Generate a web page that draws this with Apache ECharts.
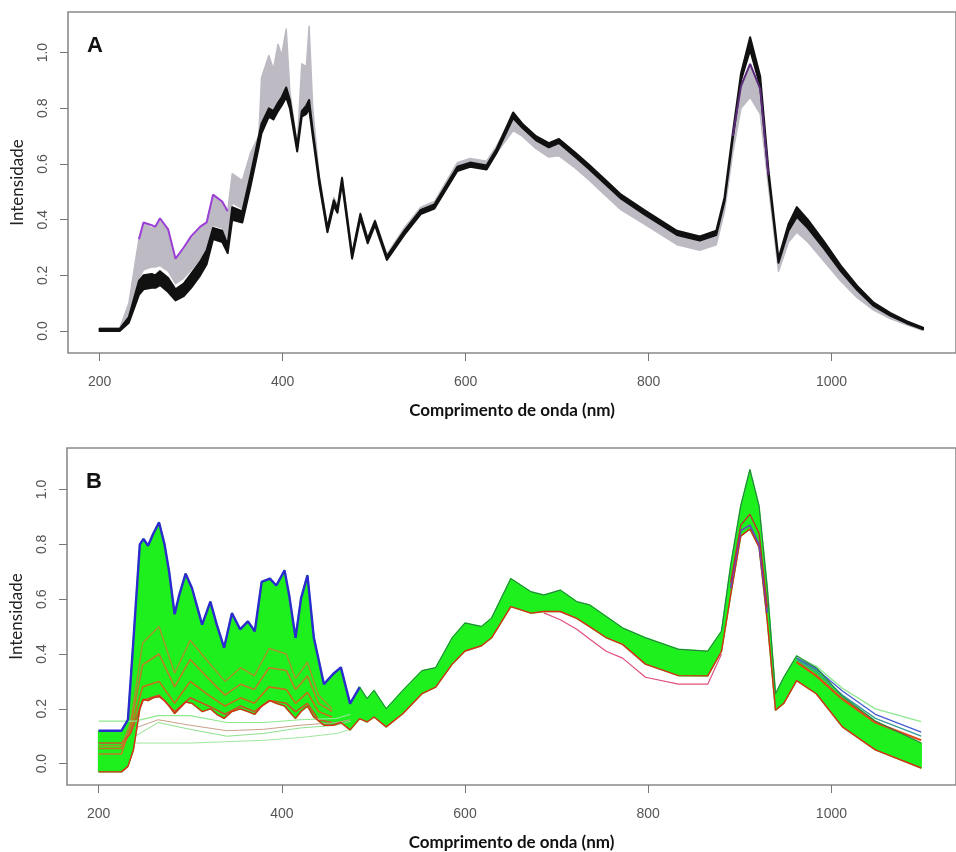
<!DOCTYPE html>
<html>
<head>
<meta charset="utf-8">
<script src="https://cdn.jsdelivr.net/npm/echarts@6/dist/echarts.min.js"></script>
<style>
html,body{margin:0;padding:0;background:#fff;}
#chart{width:956px;height:852px;}
</style>
</head>
<body>
<div id="chart"></div>
<script>
// ---------- shared ticks ----------
const xTicks = [200, 400, 600, 800, 1000];
const yTicks = [0, 0.2, 0.4, 0.6, 0.8, 1.0];

// ---------- Panel A ----------
const A_nm = [200,222,232,243,248,257,261,266,275,283,292,300,310,317,324,334,340,345,356,365,374,377,385,390,395,399,404,408,416,421,426,429,433,440,449,456,460,465,476,485,493,501,514,533,551,566,591,605,623,634,652,662,677,691,702,720,734,752,770,795,831,856,874,883,892,901,911,922,931,942,953,962,974,992,1010,1028,1046,1064,1082,1100];
const A_blackHi = [0.008,0.008,0.05,0.18,0.20,0.205,0.20,0.215,0.19,0.15,0.17,0.205,0.25,0.29,0.37,0.36,0.31,0.445,0.43,0.56,0.70,0.745,0.80,0.79,0.82,0.84,0.875,0.83,0.665,0.79,0.81,0.83,0.72,0.55,0.37,0.47,0.44,0.55,0.275,0.42,0.33,0.395,0.268,0.36,0.435,0.455,0.59,0.605,0.595,0.655,0.785,0.745,0.70,0.675,0.69,0.64,0.60,0.545,0.49,0.435,0.36,0.34,0.36,0.48,0.71,0.925,1.055,0.915,0.58,0.26,0.385,0.445,0.40,0.32,0.235,0.162,0.102,0.065,0.035,0.012];
const A_blackLo = [0.0,0.0,0.03,0.13,0.15,0.155,0.155,0.165,0.14,0.11,0.125,0.155,0.20,0.24,0.33,0.32,0.28,0.40,0.39,0.52,0.66,0.71,0.77,0.76,0.79,0.81,0.84,0.80,0.645,0.77,0.78,0.80,0.70,0.53,0.355,0.45,0.425,0.53,0.26,0.405,0.315,0.38,0.255,0.345,0.42,0.44,0.575,0.59,0.58,0.64,0.765,0.73,0.685,0.66,0.675,0.625,0.585,0.53,0.475,0.42,0.345,0.325,0.345,0.465,0.69,0.90,1.01,0.88,0.56,0.245,0.36,0.41,0.37,0.295,0.215,0.147,0.09,0.055,0.028,0.006];
const A_grayHi = [0.01,0.01,0.10,0.33,0.385,0.37,0.375,0.40,0.36,0.255,0.29,0.33,0.37,0.39,0.485,0.465,0.43,0.565,0.54,0.64,0.70,0.91,0.99,0.94,1.03,0.99,1.085,0.86,0.665,0.96,0.95,1.095,0.80,0.56,0.375,0.48,0.45,0.555,0.28,0.425,0.335,0.40,0.275,0.37,0.445,0.465,0.605,0.62,0.61,0.665,0.775,0.74,0.69,0.665,0.675,0.625,0.585,0.53,0.475,0.42,0.345,0.325,0.345,0.46,0.69,0.88,0.95,0.86,0.56,0.25,0.36,0.41,0.365,0.29,0.21,0.145,0.09,0.055,0.028,0.006];
const A_grayLo = [0.0,0.0,0.05,0.19,0.22,0.23,0.23,0.235,0.215,0.17,0.19,0.22,0.26,0.30,0.38,0.37,0.33,0.46,0.44,0.57,0.66,0.75,0.80,0.79,0.82,0.84,0.875,0.82,0.645,0.79,0.80,0.83,0.72,0.53,0.355,0.455,0.43,0.535,0.26,0.41,0.32,0.385,0.26,0.35,0.425,0.445,0.58,0.595,0.585,0.64,0.72,0.70,0.655,0.625,0.63,0.585,0.545,0.49,0.435,0.385,0.31,0.29,0.31,0.43,0.64,0.80,0.84,0.78,0.52,0.215,0.32,0.355,0.32,0.25,0.18,0.12,0.075,0.045,0.022,0.002];
const A_purpleNm = [243,248,257,261,266,275,283,292,300,310,317,324,334,340];
const A_purple = [0.33,0.39,0.38,0.375,0.405,0.365,0.26,0.30,0.34,0.375,0.39,0.49,0.465,0.43];
const A_purplePeakNm = [892,901,911,922,931];
const A_purplePeak = [0.70,0.88,0.96,0.87,0.56];

// ---------- Panel B ----------
const B_nm = [200,225,232,238,245,249,254,259.5,266,272,277,283,288,295,302,313,322,329,337,345.5,354.5,363,370.5,378,387,394,403,408,415,421,428,435,446,456,464.5,474.5,485,493,500.7,514,532,553,568,586,600,618,629,650,672,686,704,722,736,754,772,797,833,865,880,890,901,911,921,930,939,948,962,983.5,1012,1048,1098];
const B_hi = [0.12,0.12,0.16,0.45,0.80,0.82,0.795,0.838,0.88,0.80,0.70,0.545,0.615,0.693,0.64,0.507,0.591,0.507,0.423,0.549,0.49,0.519,0.483,0.663,0.675,0.65,0.705,0.615,0.459,0.603,0.687,0.459,0.29,0.327,0.351,0.219,0.279,0.237,0.267,0.20,0.267,0.339,0.35,0.459,0.513,0.50,0.531,0.675,0.627,0.615,0.633,0.591,0.579,0.537,0.495,0.459,0.417,0.41,0.483,0.723,0.94,1.072,0.94,0.64,0.255,0.315,0.393,0.35,0.245,0.155,0.075];
const B_lo = [-0.03,-0.03,-0.01,0.05,0.20,0.235,0.23,0.24,0.245,0.23,0.21,0.183,0.20,0.225,0.22,0.19,0.20,0.18,0.165,0.19,0.20,0.19,0.18,0.21,0.23,0.22,0.21,0.19,0.165,0.19,0.21,0.17,0.14,0.14,0.15,0.123,0.164,0.152,0.17,0.134,0.182,0.255,0.279,0.363,0.411,0.43,0.459,0.573,0.549,0.555,0.555,0.53,0.50,0.46,0.435,0.363,0.321,0.32,0.41,0.615,0.83,0.856,0.79,0.52,0.195,0.22,0.303,0.255,0.134,0.05,-0.016];
const B_redNm = [200,225,235,248,266,283,300,320,338,355,370,386,405,415,428,440,455];
const B_red1 = [0.055,0.055,0.12,0.28,0.30,0.22,0.30,0.25,0.21,0.24,0.22,0.28,0.27,0.22,0.26,0.19,0.17];
const B_red2 = [0.035,0.035,0.14,0.36,0.40,0.28,0.38,0.31,0.25,0.29,0.27,0.35,0.34,0.27,0.32,0.22,0.19];
const B_red3 = [0.075,0.075,0.11,0.23,0.25,0.19,0.24,0.21,0.18,0.21,0.19,0.23,0.22,0.19,0.22,0.16,0.15];
const B_red4 = [0.065,0.065,0.15,0.44,0.50,0.33,0.45,0.37,0.30,0.35,0.32,0.42,0.40,0.31,0.37,0.25,0.20];
const B_lightNm = [200,240,265,300,340,380,420,460,475];
const B_light1 = [0.155,0.155,0.175,0.175,0.15,0.15,0.16,0.165,0.18];
const B_light2 = [null,0.13,0.16,0.14,0.12,0.125,0.14,0.15,0.16];
const B_light3 = [null,0.10,0.15,0.125,0.10,0.11,0.13,0.14,0.155];
const B_light4 = [null,0.075,0.075,0.075,0.08,0.085,0.095,0.11,0.125];
const B_tailNm = [962,983.5,1012,1048,1098];
const B_tailLight = [0.39,0.355,0.275,0.20,0.153];
const B_tailBlue = [0.385,0.345,0.265,0.18,0.115];
const B_tailTeal = [0.38,0.335,0.25,0.165,0.10];
const B_tailRed = [0.37,0.32,0.235,0.15,0.085];
const B_peakNm = [890,901,911,921,930];
const B_peakPurple = [0.64,0.85,0.87,0.80,0.55];
const B_peakRed = [0.66,0.87,0.91,0.84,0.57];
const B_pinkNm = [686,704,722,736,754,772,797,833,865,880];
const B_pink = [0.55,0.525,0.49,0.455,0.41,0.385,0.315,0.29,0.29,0.40];
const B_uvEdgeLimit = 475; // top edge is blue up to here

// ---------- helpers ----------
function pairs(xs, ys) { return xs.map((x, i) => [x, ys[i]]); }
function band(axisIdx, xs, hi, lo, color, z, sw) {
  return {
    type: 'custom', xAxisIndex: axisIdx, yAxisIndex: axisIdx, silent: true, z: z || 2,
    clip: true,
    data: [[xs[0], hi[0]]],
    renderItem: function (params, api) {
      const pts = [];
      for (let i = 0; i < xs.length; i++) pts.push(api.coord([xs[i], hi[i]]));
      for (let i = xs.length - 1; i >= 0; i--) pts.push(api.coord([xs[i], lo[i]]));
      return { type: 'polygon', shape: { points: pts }, style: { fill: color, stroke: color, lineWidth: sw || 1, lineJoin: 'round' } };
    }
  };
}
function line(axisIdx, xs, ys, color, width, z, opacity) {
  return {
    type: 'line', xAxisIndex: axisIdx, yAxisIndex: axisIdx, silent: true, z: z || 3,
    data: pairs(xs, ys), symbol: 'none', connectNulls: false, animation: false,
    lineStyle: { color: color, width: width, opacity: opacity == null ? 1 : opacity }
  };
}
function xAx(gi) {
  return {
    type: 'value', gridIndex: gi, min: 165.5, max: 1136,
    axisLine: { show: false, onZero: false },
    splitLine: { show: false },
    axisTick: { show: true, inside: false, length: 8, customValues: xTicks, lineStyle: { color: '#777', width: 1 } },
    axisLabel: { customValues: xTicks, margin: 22, color: '#555', fontSize: 14, fontFamily: 'Liberation Sans', formatter: v => String(v) },
    name: 'Comprimento de onda (nm)', nameLocation: 'middle', nameGap: 49,
    nameTextStyle: { fontFamily: 'Lato', fontWeight: 'bold', fontSize: 17, color: '#111' }
  };
}
function yAx(gi, mn, mx) {
  return {
    type: 'value', gridIndex: gi, min: mn, max: mx,
    axisLine: { show: false, onZero: false },
    splitLine: { show: false },
    axisTick: { show: true, inside: false, length: 8, customValues: yTicks, lineStyle: { color: '#777', width: 1 } },
    axisLabel: { customValues: yTicks, rotate: 90, margin: 18, color: '#555', fontSize: 14, fontFamily: 'Liberation Sans',
      formatter: v => v.toFixed(1) },
    name: 'Intensidade', nameLocation: 'middle', nameGap: 42, nameRotate: 90,
    nameTextStyle: { fontFamily: 'Lato', fontSize: 17, color: '#222' }
  };
}

const uvIdx = B_nm.filter(x => x <= B_uvEdgeLimit).length;
const series = [
  // Panel A
  band(0, A_nm, A_grayHi, A_grayLo, '#bdbac3', 2, 1.5),
  band(0, A_nm, A_blackHi, A_blackLo, '#111111', 3, 2),
  line(0, A_purpleNm, A_purple, '#9b3fd6', 2, 4),
  line(0, A_purplePeakNm, A_purplePeak, '#5a2a7a', 2, 4),
  // Panel B
  band(1, B_nm, B_hi, B_lo, '#1ef01e', 2, 1.5),
  line(1, B_redNm, B_red1, '#e05a1a', 1.6, 3, 0.85),
  line(1, B_redNm, B_red2, '#d86a2a', 1.6, 3, 0.85),
  line(1, B_redNm, B_red3, '#e83a2a', 1.6, 3, 0.85),
  line(1, B_redNm, B_red4, '#c97a30', 1.4, 3, 0.8),
  line(1, B_nm.slice(0, uvIdx + 1), B_hi.slice(0, uvIdx + 1), '#2b2bd0', 2.4, 4),
  line(1, B_nm.slice(uvIdx), B_hi.slice(uvIdx), '#2f6f50', 1, 4),
  line(1, B_nm, B_lo, '#e0281a', 1.4, 4),
  line(1, B_lightNm, B_light1, '#8fe88f', 1.2, 3),
  line(1, B_lightNm, B_light2, '#c9a08a', 1.0, 3),
  line(1, B_lightNm, B_light3, '#8ee08e', 1.0, 3),
  line(1, B_lightNm, B_light4, '#9ee89e', 1.0, 3),
  line(1, B_tailNm, B_tailLight, '#8fe88f', 1.4, 3),
  line(1, B_tailNm, B_tailBlue, '#4a5ed0', 1.4, 3),
  line(1, B_tailNm, B_tailTeal, '#3a9a9a', 1.4, 3),
  line(1, B_tailNm, B_tailRed, '#e04a1a', 2.2, 3),
  line(1, B_peakNm, B_peakPurple, '#6a40c8', 1.6, 4),
  line(1, B_peakNm, B_peakRed, '#c03030', 1.4, 4),
  line(1, B_pinkNm, B_pink, '#e0507a', 1.2, 3)
];

const chart = echarts.init(document.getElementById('chart'), null, { renderer: 'canvas' });
chart.setOption({
  animation: false,
  backgroundColor: '#fff',
  title: [
    { text: 'A', left: 82, top: 30, textStyle: { fontFamily: 'Liberation Sans', fontWeight: 'bold', fontSize: 22, color: '#111' } },
    { text: 'B', left: 81, top: 466, textStyle: { fontFamily: 'Liberation Sans', fontWeight: 'bold', fontSize: 22, color: '#111' } }
  ],
  grid: [
    { left: 68, top: 12, width: 901, height: 341, show: true, borderColor: '#8a8a8a', borderWidth: 1.6, backgroundColor: 'transparent' },
    { left: 66, top: 448, width: 902, height: 341, show: true, borderColor: '#8a8a8a', borderWidth: 1.6, backgroundColor: 'transparent' }
  ],
  xAxis: [xAx(0), xAx(1)],
  yAxis: [yAx(0, -0.079, 1.146), yAx(1, -0.078, 1.1515)],
  series: series
});
</script>
</body>
</html>
